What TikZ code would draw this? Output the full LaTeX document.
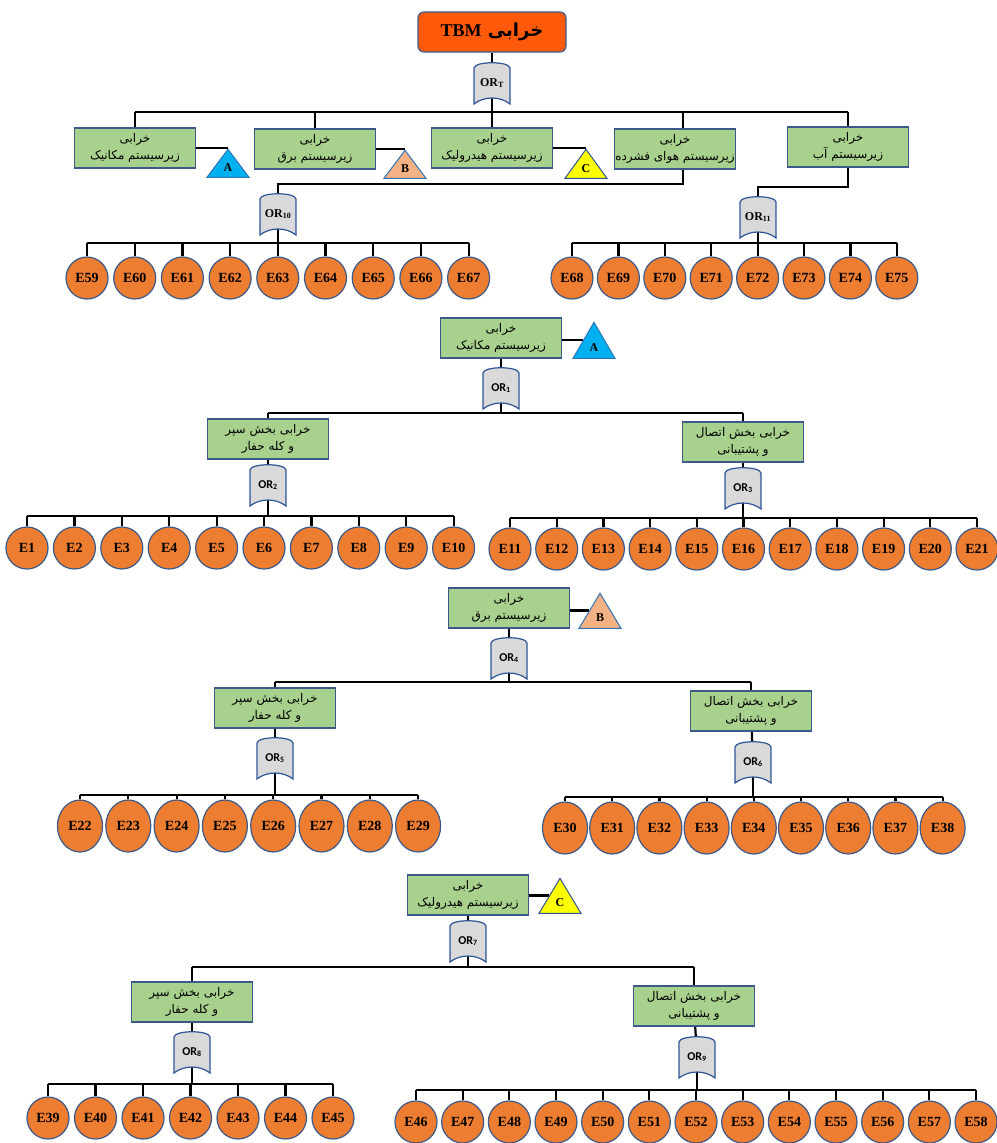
\documentclass[tikz,border=0pt]{standalone}
\usepackage{fontspec}
\setmainfont{Liberation Serif}
\newfontfamily\arabicfont[Script=Arabic]{DejaVu Sans}
\newfontfamily\calfont{Carlito}
\TeXXeTstate=1
\usetikzlibrary{shapes.geometric,backgrounds}

\definecolor{boxgreen}{HTML}{A9D18E}
\definecolor{boxline}{HTML}{3B5A8A}
\definecolor{evorange}{HTML}{ED7D31}
\definecolor{gategray}{HTML}{D9D9D9}
\definecolor{gateline}{HTML}{2F5597}
\definecolor{topred}{HTML}{FF5A0A}
\definecolor{triblue}{HTML}{00B0F0}
\definecolor{tripeach}{HTML}{F4B183}
\definecolor{triyellow}{HTML}{FFFF00}
\definecolor{triline}{HTML}{2E75B6}

\newcommand{\fatext}[1]{{\arabicfont\beginR #1\endR}}
\newcommand{\orgate}[4][gatelabel]{%
  \draw[gateshape, shift={#3}] (-18,15) .. controls (-17,22) and (17,22) .. (18,15)
    -- (18,-21) .. controls (8,-13) and (-8,-13) .. (-18,-21) -- cycle;
  \node (#2) at #3 [#1] {OR\textsubscript{#4}};}

\tikzset{
  wire/.style = {line width=2.2pt, black},
  topevent/.style = {draw=boxline, fill=topred, rounded corners=6pt, line width=1.2pt,
    minimum width=148pt, minimum height=40pt, font=\fontsize{18}{18}\selectfont\bfseries},
  subbox/.style = {draw=boxline, fill=boxgreen, line width=1.2pt, minimum width=121pt,
    minimum height=40pt, inner sep=0pt, align=center, font=\fontsize{12}{17}\selectfont},
  basic/.style = {circle, draw=boxline, fill=evorange, line width=1.2pt, minimum size=42pt,
    inner sep=0pt, font=\fontsize{14}{14}\selectfont\bfseries},
  basicoval/.style = {basic, ellipse, minimum width=45pt, minimum height=52pt},
  transfer/.style = {isosceles triangle, shape border rotate=90, isosceles triangle stretches,
    draw=triline, line width=1pt, inner sep=0pt, minimum width=42pt, minimum height=35pt,
    font=\fontsize{12}{12}\selectfont\bfseries},
  gateshape/.style = {draw=gateline, fill=gategray, line width=1.2pt},
  gatelabel/.style = {minimum width=36pt, minimum height=42pt, inner sep=0pt,
    font=\fontsize{12}{12}\selectfont\bfseries},
  gatesans/.style = {gatelabel, font=\calfont\fontsize{12}{12}\selectfont\bfseries}
}

\begin{document}
\begin{tikzpicture}[x=1pt, y=1pt]
    \useasboundingbox (0,0) rectangle (996,-1143);

    % top event and subsystems
    \node (top) at (492,-32) [topevent] {\fatext{خرابی \beginL{\rmfamily TBM}\endL}};
    \orgate{gT}{(492,-83)}{T}
    \coordinate (busT) at (0,-112);
    \node (mech) at (135,-148) [subbox] {\fatext{خرابی}\\\fatext{زیرسیستم مکانیک}};
    \node (elec) at (315,-149) [subbox] {\fatext{خرابی}\\\fatext{زیرسیستم برق}};
    \node (hyd) at (492,-148) [subbox] {\fatext{خرابی}\\\fatext{زیرسیستم هیدرولیک}};
    \node (air) at (675,-149) [subbox] {\fatext{خرابی}\\\fatext{زیرسیستم هوای فشرده}};
    \node (water) at (848,-147) [subbox] {\fatext{خرابی}\\\fatext{زیرسیستم آب}};
    \node (trA) at (228,-148) [transfer, anchor=apex, fill=triblue, minimum height=28pt] {A};
    \node (trB) at (405,-149) [transfer, anchor=apex, fill=tripeach, minimum height=28pt] {B};
    \node (trC) at (586,-148) [transfer, anchor=apex, fill=triyellow, draw=gateline, minimum height=29pt] {C};
    \orgate{g10}{(278,-214)}{10}
    \orgate{g11}{(758,-217)}{11}
    \coordinate (bus10) at (0,-243);
    \coordinate (bus11) at (0,-243);
    \foreach \n [count=\k from 0] in {59,...,67}
        \node (e\n) at (87+47.7*\k,-278) [basic] {E\n};
    \foreach \n [count=\k from 0] in {68,...,75}
        \node (e\n) at (572+46.4*\k,-278) [basic] {E\n};

    % mechanical subsystem
    \node (mech2) at (501,-338) [subbox] {\fatext{خرابی}\\\fatext{زیرسیستم مکانیک}};
    \node (trA2) at (594,-321) [transfer, anchor=apex, fill=triblue, minimum height=36pt] {A};
    \orgate[gatesans]{g1}{(501,-388)}{1}
    \coordinate (bus1) at (0,-413);
    \node (shield2) at (268,-439) [subbox] {\fatext{خرابی بخش سپر}\\\fatext{و کله حفار}};
    \node (joint2) at (743,-442) [subbox] {\fatext{خرابی بخش اتصال}\\\fatext{و پشتیبانی}};
    \orgate[gatesans]{g2}{(268,-485)}{2}
    \orgate[gatesans]{g3}{(743,-488)}{3}
    \coordinate (bus2) at (0,-516);
    \coordinate (bus3) at (0,-518);
    \foreach \n [count=\k from 0] in {1,...,10}
        \node (e\n) at (27+47.4*\k,-548) [basic] {E\n};
    \foreach \n [count=\k from 0] in {11,...,21}
        \node (e\n) at (510+46.7*\k,-549) [basic] {E\n};

    % electrical subsystem
    \node (elec3) at (509,-608) [subbox] {\fatext{خرابی}\\\fatext{زیرسیستم برق}};
    \node (trB3) at (600,-592) [transfer, anchor=apex, fill=tripeach, minimum height=35pt] {B};
    \orgate[gatesans]{g4}{(509,-658)}{4}
    \coordinate (bus4) at (0,-682);
    \node (shield3) at (275,-708) [subbox] {\fatext{خرابی بخش سپر}\\\fatext{و کله حفار}};
    \node (joint3) at (751,-711) [subbox] {\fatext{خرابی بخش اتصال}\\\fatext{و پشتیبانی}};
    \orgate[gatesans]{g5}{(275,-758)}{5}
    \orgate[gatesans]{g6}{(753,-762)}{6}
    \coordinate (bus5) at (0,-795);
    \coordinate (bus6) at (0,-797);
    \foreach \n [count=\k from 0] in {22,...,29}
        \node (e\n) at (80+48.3*\k,-826) [basicoval] {E\n};
    \foreach \n [count=\k from 0] in {30,...,38}
        \node (e\n) at (565+47.2*\k,-828) [basicoval] {E\n};

    % hydraulic subsystem
    \node (hyd4) at (468,-895) [subbox] {\fatext{خرابی}\\\fatext{زیرسیستم هیدرولیک}};
    \node (trC4) at (560,-877) [transfer, anchor=apex, fill=triyellow, draw=gateline, minimum height=35pt] {C};
    \orgate[gatesans]{g7}{(468,-941)}{7}
    \coordinate (bus7) at (0,-967);
    \node (shield4) at (192,-1002) [subbox] {\fatext{خرابی بخش سپر}\\\fatext{و کله حفار}};
    \node (joint4) at (694,-1006) [subbox] {\fatext{خرابی بخش اتصال}\\\fatext{و پشتیبانی}};
    \orgate[gatesans]{g8}{(192,-1052)}{8}
    \orgate[gatesans]{g9}{(697,-1057)}{9}
    \coordinate (bus8) at (0,-1084);
    \coordinate (bus9) at (0,-1090);
    \foreach \n [count=\k from 0] in {39,...,45}
        \node (e\n) at (48+47.5*\k,-1118) [basic] {E\n};
    \foreach \n [count=\k from 0] in {46,...,58}
        \node (e\n) at (416+46.67*\k,-1122) [basic] {E\n};

    % connectors
    \begin{scope}[on background layer]
    \draw [wire] (top) -- (gT);
    \draw [wire] (gT.center) -- (gT |- busT);
    \draw [wire] (mech |- busT) -- (water |- busT);
    \foreach \b in {mech, elec, hyd, water}
        \draw [wire] (\b) -- (\b |- busT);
    \draw [wire] ([xshift=8pt]air.north) -- ([xshift=8pt]air.north |- busT);
    \draw [wire] (mech) -- (trA.apex);
    \draw [wire] (elec) -- (trB.apex);
    \draw [wire] (hyd) -- (trC.apex);
    \draw [wire] ([xshift=8pt]air.south) -- ++(0,-14) -| (g10.north);
    \draw [wire] (water.south) -- ++(0,-19) -| (g11.north);
    \draw [wire] (g10.center) -- (g10 |- bus10);
    \draw [wire] (g11.center) -- (g11 |- bus11);
    \draw [wire] (e59 |- bus10) -- (e67 |- bus10);
    \draw [wire] (e68 |- bus11) -- (e75 |- bus11);
    \foreach \n in {59,...,67}
        \draw [wire] (e\n) -- (e\n |- bus10);
    \foreach \n in {68,...,75}
        \draw [wire] (e\n) -- (e\n |- bus11);

    \draw [wire] (mech2.east |- trA2.left side) -- (trA2.left side);
    \draw [wire] (mech2) -- (g1);
    \draw [wire] (g1.center) -- (g1 |- bus1);
    \draw [wire] (shield2 |- bus1) -- (joint2 |- bus1);
    \draw [wire] (shield2) -- (shield2 |- bus1);
    \draw [wire] (joint2) -- (joint2 |- bus1);
    \draw [wire] (shield2) -- (g2);
    \draw [wire] (joint2) -- (g3);
    \draw [wire] (g2.center) -- (g2 |- bus2);
    \draw [wire] (g3.center) -- (g3 |- bus3);
    \draw [wire] (e1 |- bus2) -- (e10 |- bus2);
    \draw [wire] (e11 |- bus3) -- (e21 |- bus3);
    \foreach \n in {1,...,10}
        \draw [wire] (e\n) -- (e\n |- bus2);
    \foreach \n in {11,...,21}
        \draw [wire] (e\n) -- (e\n |- bus3);

    \draw [wire] (elec3.east |- trB3.left side) -- (trB3.left side);
    \draw [wire] (elec3) -- (g4);
    \draw [wire] (g4.center) -- (g4 |- bus4);
    \draw [wire] (shield3 |- bus4) -- (joint3 |- bus4);
    \draw [wire] (shield3) -- (shield3 |- bus4);
    \draw [wire] (joint3) -- (joint3 |- bus4);
    \draw [wire] (shield3) -- (g5);
    \draw [wire] (joint3) -- (g6);
    \draw [wire] (g5.center) -- (g5 |- bus5);
    \draw [wire] (g6.center) -- (g6 |- bus6);
    \draw [wire] (e22 |- bus5) -- (e29 |- bus5);
    \draw [wire] (e30 |- bus6) -- (e38 |- bus6);
    \foreach \n in {22,...,29}
        \draw [wire] (e\n) -- (e\n |- bus5);
    \foreach \n in {30,...,38}
        \draw [wire] (e\n) -- (e\n |- bus6);

    \draw [wire] (hyd4.east |- trC4.left side) -- (trC4.left side);
    \draw [wire] (hyd4) -- (g7);
    \draw [wire] (g7.center) -- (g7 |- bus7);
    \draw [wire] (shield4 |- bus7) -- (joint4 |- bus7);
    \draw [wire] (shield4) -- (shield4 |- bus7);
    \draw [wire] (joint4) -- (joint4 |- bus7);
    \draw [wire] (shield4) -- (g8);
    \draw [wire] (joint4) -- (g9);
    \draw [wire] (g8.center) -- (g8 |- bus8);
    \draw [wire] (g9.center) -- (g9 |- bus9);
    \draw [wire] (e39 |- bus8) -- (e45 |- bus8);
    \draw [wire] (e46 |- bus9) -- (e58 |- bus9);
    \foreach \n in {39,...,45}
        \draw [wire] (e\n) -- (e\n |- bus8);
    \foreach \n in {46,...,58}
        \draw [wire] (e\n) -- (e\n |- bus9);
    \end{scope}
\end{tikzpicture}
\end{document}
